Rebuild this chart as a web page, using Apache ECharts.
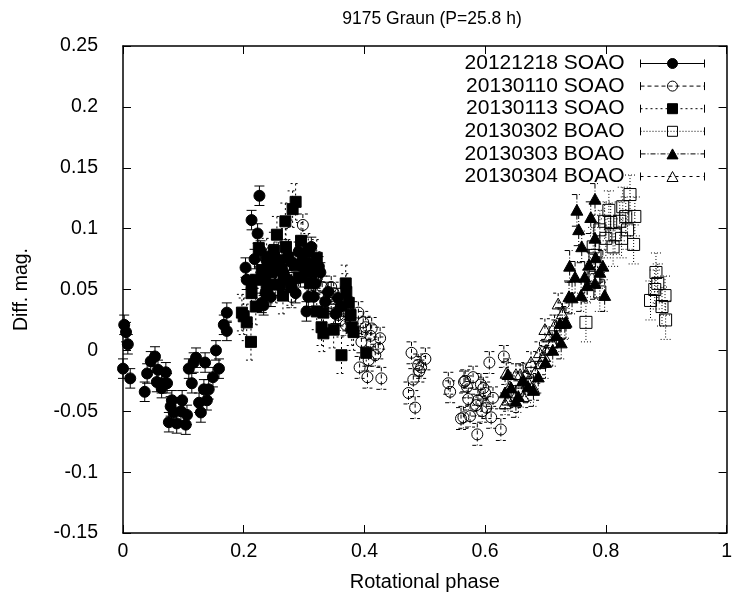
<!DOCTYPE html>
<html><head><meta charset="utf-8">
<script src="https://cdn.jsdelivr.net/npm/echarts@6/dist/echarts.min.js"></script>
<style>html,body{margin:0;padding:0;background:#fff}#c{width:735px;height:605px}</style>
</head><body><div id="c"></div>
<script>
// ---- data: [rotational phase, diff. mag.] ----
const seriesNames = ['20121218 SOAO','20130110 SOAO','20130113 SOAO','20130302 BOAO','20130303 BOAO','20130304 BOAO'];

const d20121218 = [
[0.000,-0.015],[0.002,0.021],[0.005,0.015],[0.008,0.005],[0.012,-0.023],
[0.036,-0.034],[0.040,-0.019],[0.046,-0.009],[0.053,-0.005],[0.058,-0.016],[0.056,-0.026],[0.064,-0.027],[0.071,-0.018],[0.073,-0.027],[0.064,-0.031],
[0.081,-0.041],[0.079,-0.046],[0.084,-0.051],[0.076,-0.059],[0.089,-0.060],[0.096,-0.050],[0.098,-0.041],[0.104,-0.061],[0.106,-0.053],
[0.114,-0.027],[0.109,-0.015],[0.117,-0.010],[0.121,-0.006],[0.136,-0.010],[0.126,-0.043],[0.129,-0.051],[0.134,-0.032],[0.142,-0.032],[0.139,-0.041],[0.149,-0.022],[0.154,0.000],[0.159,-0.015],
[0.172,0.031],[0.167,0.021],[0.172,0.016],
[0.226,0.127],[0.213,0.107],[0.223,0.096],[0.203,0.068],[0.205,0.058],[0.213,0.052],[0.261,0.053],[0.291,0.081],[0.312,0.085],[0.302,0.066],[0.307,0.044],[0.286,0.047],[0.319,0.055],[0.324,0.069],[0.316,0.044],[0.304,0.032],[0.253,0.066],[0.236,0.058],[0.245,0.044],[0.230,0.039],[0.274,0.058],[0.236,0.047],[0.233,0.037],[0.327,0.064],[0.294,0.060],
[0.218,0.075],[0.228,0.082],[0.240,0.072],[0.250,0.079],[0.258,0.070],[0.266,0.063],[0.280,0.072],[0.297,0.074],[0.310,0.071],[0.335,0.040],[0.340,0.048],[0.352,0.030],[0.356,0.043],[0.362,0.036]
];
const d20130110 = [
[0.298,0.103],[0.279,0.044],[0.320,0.058],[0.330,0.052],
[0.345,0.052],[0.349,0.047],[0.345,0.039],[0.357,0.029],[0.360,0.025],[0.369,0.021],[0.390,0.031],[0.398,0.023],[0.402,0.019],[0.412,0.018],[0.410,0.012],[0.395,0.007],[0.426,0.010],[0.423,0.002],[0.418,-0.004],[0.407,-0.008],[0.392,-0.014],[0.405,-0.022],[0.428,-0.023],
[0.478,-0.002],[0.501,-0.007],[0.494,-0.014],[0.489,-0.012],[0.491,-0.017],[0.481,-0.024],[0.473,-0.035],[0.484,-0.047],
[0.539,-0.027],[0.542,-0.034],[0.565,-0.026],[0.567,-0.025],[0.580,-0.022],[0.593,-0.028],[0.572,-0.040],[0.588,-0.041],[0.613,-0.039],[0.602,-0.047],[0.564,-0.055],[0.575,-0.054],[0.610,-0.055],[0.587,-0.069],[0.626,-0.065],[0.597,-0.031],[0.560,-0.056],[0.607,-0.010],[0.631,-0.005],[0.585,-0.045],[0.595,-0.050],[0.570,-0.030],[0.600,-0.035]
];
const d20130113 = [
[0.286,0.122],[0.281,0.116],[0.269,0.106],[0.255,0.095],[0.225,0.084],[0.238,0.077],[0.258,0.074],[0.274,0.076],[0.307,0.081],[0.321,0.076],[0.230,0.066],[0.245,0.064],[0.263,0.066],[0.291,0.060],[0.312,0.064],[0.324,0.066],[0.220,0.058],[0.213,0.047],[0.238,0.052],[0.253,0.054],[0.279,0.052],[0.220,0.036],[0.197,0.031],[0.205,0.023],[0.212,0.007],[0.321,0.032],[0.332,0.031],[0.329,0.019],[0.332,0.014],[0.349,0.017],[0.369,0.055],[0.370,0.048],[0.374,0.039],[0.377,0.029],[0.379,0.019],[0.362,-0.004],[0.403,-0.002],[0.382,0.015],[0.200,0.028],[0.240,0.070],[0.250,0.082],[0.266,0.060],[0.285,0.070],[0.300,0.072],[0.310,0.055],[0.270,0.085],[0.295,0.090],[0.265,0.045]
];
const d20130302 = [
[0.840,0.128],[0.828,0.118],[0.805,0.115],[0.848,0.110],[0.833,0.110],[0.823,0.106],[0.808,0.105],[0.790,0.099],[0.836,0.099],[0.798,0.106],[0.812,0.085],[0.846,0.087],[0.779,0.085],[0.782,0.078],[0.883,0.064],[0.886,0.055],[0.898,0.045],[0.874,0.041],[0.893,0.036],[0.899,0.025],[0.881,0.050],[0.782,0.060],[0.790,0.048],[0.767,0.023],[0.815,0.095],[0.826,0.092],[0.800,0.092]
];
const d20130303 = [
[0.782,0.124],[0.752,0.115],[0.775,0.109],[0.755,0.099],[0.782,0.092],[0.783,0.076],[0.772,0.070],[0.740,0.069],[0.795,0.069],[0.749,0.060],[0.765,0.060],[0.790,0.064],[0.769,0.053],[0.782,0.055],[0.739,0.044],[0.759,0.045],[0.798,0.045],[0.744,0.043],[0.734,0.023],[0.726,0.006],[0.724,0.022],[0.732,0.022],[0.638,-0.020],[0.643,-0.031],[0.655,-0.038],[0.671,-0.030],[0.663,-0.025],[0.688,-0.022],[0.680,-0.033],[0.633,-0.035],[0.651,-0.042],[0.700,-0.010],[0.712,0.000],[0.718,0.012],[0.760,0.085]
];
const d20130304 = [
[0.721,0.038],[0.699,0.017],[0.706,0.011],[0.711,0.006],[0.701,0.000],[0.698,-0.005],[0.691,-0.011],[0.676,-0.010],[0.683,-0.018],[0.668,-0.019],[0.658,-0.020],[0.681,-0.032],[0.671,-0.026],[0.660,-0.027],[0.641,-0.030],[0.650,-0.038],[0.663,-0.038],[0.638,-0.041],[0.633,-0.044],[0.651,-0.020],[0.635,-0.019],[0.715,0.020],[0.690,-0.002],[0.728,0.030]
];
// typical 1-sigma error of each night
const errors = [0.008, 0.009, 0.015, 0.016, 0.013, 0.009];

const datasets = [d20121218, d20130110, d20130113, d20130302, d20130303, d20130304];

// ---- styles ----
const FONT = '"Liberation Sans", Arial, Helvetica, sans-serif';
const styles = [
  {marker:'circle',   fill:true,  size:11, dash:null},
  {marker:'circle',   fill:false, size:11, dash:[4,3]},
  {marker:'square',   fill:true,  size:11, dash:[2,3]},
  {marker:'square',   fill:false, size:12, dash:[1,2]},
  {marker:'triangle', fill:true,  size:12, dash:[5,2,1,2]},
  {marker:'triangle', fill:false, size:12, dash:[3,4]}
];

function markerShape(st, cx, cy) {
  const h = st.size / 2;
  const style = {fill: st.fill ? '#000' : 'none', stroke: '#000', lineWidth: 1};
  if (st.marker === 'circle') return {type:'circle', shape:{cx:cx, cy:cy, r:h}, style:style};
  if (st.marker === 'square') return {type:'rect', shape:{x:cx-h, y:cy-h, width:st.size, height:st.size}, style:style};
  return {type:'polygon', shape:{points:[[cx, cy-h],[cx+h, cy+h*0.8],[cx-h, cy+h*0.8]]}, style:style};
}

function makeRender(st, err) {
  return function (params, api) {
    const x = api.value(0), y = api.value(1);
    const p = api.coord([x, y]);
    const top = api.coord([x, y + err]);
    const bot = api.coord([x, y - err]);
    const cap = 5;
    const ls = {stroke:'#000', lineWidth:1, lineDash: st.dash || null, fill: null};
    return {type:'group', children:[
      {type:'line', shape:{x1:p[0], y1:top[1], x2:p[0], y2:bot[1]}, style:ls},
      {type:'line', shape:{x1:p[0]-cap, y1:top[1], x2:p[0]+cap, y2:top[1]}, style:ls},
      {type:'line', shape:{x1:p[0]-cap, y1:bot[1], x2:p[0]+cap, y2:bot[1]}, style:ls},
      markerShape(st, p[0], p[1])
    ]};
  };
}

function legendIcon(st) {
  let d = 'M0 1L0 9M64 1L64 9';
  if (!st.dash) d += 'M0 5L64 5';
  else {
    let x = 0, i = 0, on = true;
    while (x < 64) {
      const x2 = Math.min(64, x + st.dash[i % st.dash.length]);
      if (on) d += 'M' + x + ' 5L' + x2 + ' 5';
      x = x2; on = !on; i++;
    }
  }
  if (st.marker === 'circle') d += 'M37 5A5 5 0 1 1 27 5A5 5 0 1 1 37 5Z';
  else if (st.marker === 'square') d += 'M27 0L37 0L37 10L27 10Z';
  else d += 'M32 0L37.5 10L26.5 10Z';
  return 'path://' + d;
}

const axisCommon = {
  axisLine:{show:true, onZero:false, lineStyle:{color:'#000', width:1.5}},
  axisTick:{show:true, inside:true, length:8, lineStyle:{color:'#000', width:1}},
  splitLine:{show:false}
};

const chart = echarts.init(document.getElementById('c'), null, {renderer:'canvas'});
chart.setOption({
  animation:false,
  backgroundColor:'#fff',
  title:{
    text:'9175 Graun (P=25.8 h)', left:427, top:5, textAlign:'center',
    textStyle:{fontFamily:FONT, fontSize:17.5, fontWeight:'normal', color:'#000'}
  },
  grid:{left:123, right:5, top:46, bottom:72},
  legend:{
    orient:'vertical', right:30, top:53, padding:0, itemGap:1.6,
    itemWidth:64, itemHeight:10, align:'right', selectedMode:false, symbolKeepAspect:false,
    textStyle:{fontFamily:FONT, fontSize:21, lineHeight:21, color:'#000', padding:[0,11,0,0]},
    data: seriesNames.map(function (n, i) {
      return {name:n, icon:legendIcon(styles[i]),
        itemStyle:{color: styles[i].fill ? '#000' : 'rgba(0,0,0,0)', borderColor:'#000', borderWidth:1}};
    })
  },
  xAxis:[
    Object.assign({type:'value', min:0, max:1, interval:0.2, position:'bottom',
      name:'Rotational phase', nameLocation:'middle', nameGap:39,
      nameTextStyle:{fontFamily:FONT, fontSize:20, color:'#000'},
      axisLabel:{fontFamily:FONT, fontSize:19.5, color:'#000', margin:9}}, axisCommon),
    Object.assign({type:'value', min:0, max:1, interval:0.2, position:'top',
      axisLabel:{show:false}}, axisCommon)
  ],
  yAxis:[
    Object.assign({type:'value', min:-0.15, max:0.25, interval:0.05, position:'left',
      name:'Diff. mag.', nameLocation:'middle', nameGap:91,
      nameTextStyle:{fontFamily:FONT, fontSize:19.5, color:'#000'},
      axisLabel:{fontFamily:FONT, fontSize:19.5, color:'#000', margin:25}}, axisCommon),
    Object.assign({type:'value', min:-0.15, max:0.25, interval:0.05, position:'right',
      axisLabel:{show:false}}, axisCommon)
  ],
  series: datasets.map(function (data, i) {
    return {
      type:'custom', name:seriesNames[i], coordinateSystem:'cartesian2d',
      xAxisIndex:0, yAxisIndex:0, silent:true, clip:false,
      itemStyle:{color:'#000'},
      encode:{x:0, y:1},
      renderItem: makeRender(styles[i], errors[i]),
      data: data
    };
  })
});
</script>
</body></html>
